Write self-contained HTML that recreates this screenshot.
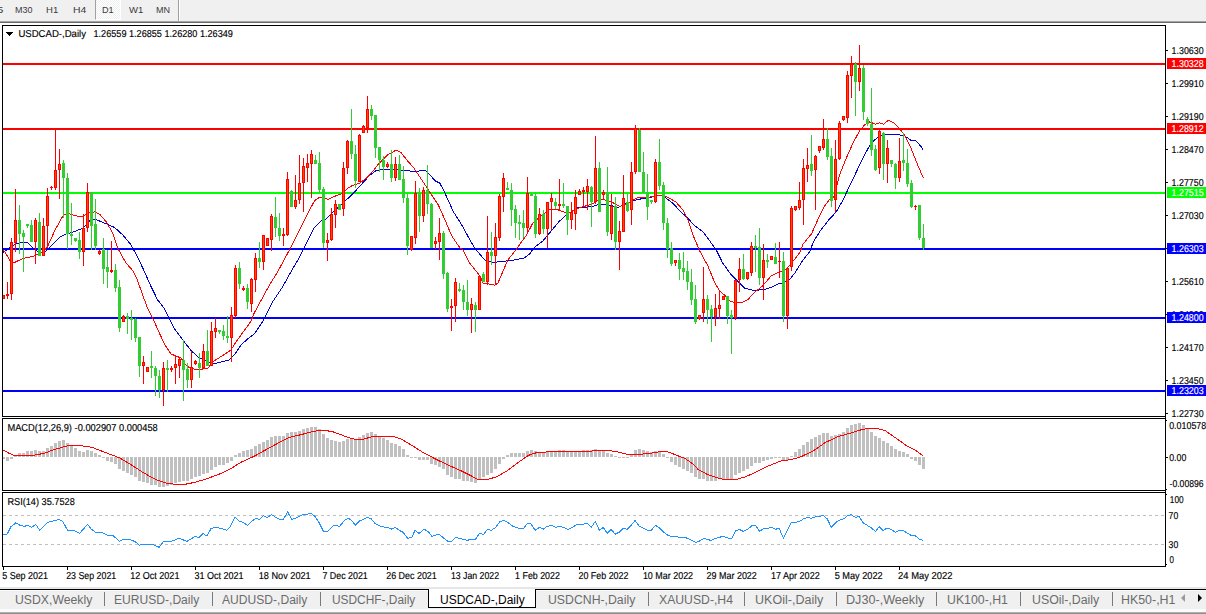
<!DOCTYPE html>
<html><head><meta charset="utf-8"><title>USDCAD-,Daily</title>
<style>
html,body{margin:0;padding:0;background:#fff;}
body{width:1206px;height:614px;position:relative;overflow:hidden;font-family:"Liberation Sans", sans-serif;}
#toolbar{position:absolute;left:0;top:0;width:1206px;height:21px;background:#f0f0f0;}
#toolbar .edge1{position:absolute;left:0;top:21px;width:1206px;height:1px;background:#a3a3a3;}
#toolbar .edge2{position:absolute;left:0;top:22px;width:1206px;height:1px;background:#6a6a6a;}
.tbt{position:absolute;transform-origin:0 0;font-size:9.5px;line-height:1.2;white-space:nowrap;}
#d1btn{position:absolute;left:95px;top:0;width:24px;height:19px;border-left:1px solid #a0a0a0;border-right:1px solid #fff;border-bottom:1px solid #fff;background:repeating-conic-gradient(#fff 0% 25%,#f0f0f0 0% 50%) 0 0/2px 2px;}
#tbsep{position:absolute;left:178px;top:0;width:1px;height:21px;background:#a0a0a0;border-right:1px solid #fff;}
#chart{position:absolute;left:0;top:0;}
#chart text{font-family:"Liberation Sans", sans-serif;white-space:pre;stroke-width:0.15px;paint-order:stroke;}
#tabs{position:absolute;left:0;top:587px;width:1206px;height:27px;background:#f0f0f0;}
#tabs .l0{position:absolute;left:0;top:0;width:1206px;height:2px;background:#e6e6e6;}
#tabs .l1{position:absolute;left:0;top:2px;width:1206px;height:1px;background:#000;}
#tabs .l2{position:absolute;left:0;top:3px;width:1206px;height:1px;background:#fafafa;}
#tabs .b0{position:absolute;left:0;top:22px;width:1206px;height:3px;background:#fbfbfb;}
#tabs .b1{position:absolute;left:0;top:25px;width:1206px;height:1px;background:#b0b0b0;}
#tabs .b2{position:absolute;left:0;top:26px;width:1206px;height:1px;background:#8e8e8e;}
#active{position:absolute;left:428px;top:2px;width:106px;height:18px;background:#fff;border:1px solid #000;border-top:none;}
.tabt{position:absolute;transform-origin:0 0;font-size:12.5px;line-height:1.2;white-space:nowrap;margin-top:-587px;}
.sep{position:absolute;top:5px;width:1px;height:14px;background:#7a7a7a;}
.arr{position:absolute;top:7px;width:0;height:0;border-top:4px solid transparent;border-bottom:4px solid transparent;}
</style></head><body>
<div id="toolbar"><div id="d1btn"></div><div id="tbsep"></div>
<span class="tbt" style="left:-2.6px;top:4.01px;transform:scaleX(1.2);color:#3a3a3a">5</span><span class="tbt" style="left:14.6px;top:4.01px;transform:scaleX(0.9452);color:#3a3a3a">M30</span><span class="tbt" style="left:45.8px;top:4.01px;transform:scaleX(1.0033);color:#3a3a3a">H1</span><span class="tbt" style="left:72.6px;top:4.01px;transform:scaleX(1.0961);color:#3a3a3a">H4</span><span class="tbt" style="left:102.0px;top:4.01px;transform:scaleX(0.9612);color:#3a3a3a">D1</span><span class="tbt" style="left:129.0px;top:4.01px;transform:scaleX(1.0024);color:#3a3a3a">W1</span><span class="tbt" style="left:155.8px;top:4.01px;transform:scaleX(0.9522);color:#3a3a3a">MN</span>
<div class="edge1"></div><div class="edge2"></div></div>
<svg id="chart" width="1206" height="614" viewBox="0 0 1206 614" shape-rendering="crispEdges">
<rect x="3" y="63" width="1162" height="2" fill="#ff0000"/>
<rect x="3" y="128" width="1162" height="2" fill="#ff0000"/>
<rect x="3" y="192" width="1162" height="2" fill="#00ff00"/>
<rect x="3" y="248" width="1162" height="2" fill="#0000ff"/>
<rect x="3" y="317" width="1162" height="2" fill="#0000ff"/>
<rect x="3" y="390" width="1162" height="2" fill="#0000ff"/>
<polyline points="3.3,252.2 8.3,248.9 14.9,244.4 21.6,242.3 27.4,242.3 33.2,248.1 39.8,253.1 45.6,251.4 51.4,245.6 59.7,237.3 66.3,234.0 74.6,231.5 82.9,228.2 89.6,220.7 94.5,219.1 101.2,221.6 114.4,227.4 122.7,234.8 131.0,244.8 137.6,257.2 144.3,271.3 150.9,286.2 157.5,299.7 164.2,308.2 169.2,318.1 174.1,328.1 182.4,339.5 191.2,350.7 199.5,358.2 206.1,360.7 212.8,364.0 219.4,362.3 229.4,359.9 234.3,354.9 241.0,345.0 249.3,337.5 254.6,333.7 262.9,321.3 272.9,301.4 282.8,286.5 291.1,271.6 298.5,259.0 306.3,243.7 314.6,227.2 320.4,221.4 326.2,218.9 332.8,212.2 342.8,203.1 352.7,194.0 361.0,184.9 369.3,175.8 375.9,170.8 382.6,169.3 395.8,169.5 412.4,171.3 425.8,170.7 430.0,174.9 434.9,180.7 439.9,183.2 444.9,193.1 453.2,211.4 461.5,224.6 469.8,239.6 474.7,248.0 484.7,259.9 493.0,262.4 502.9,261.5 514.5,259.9 524.5,257.9 529.5,254.1 534.4,247.4 542.7,241.2 551.0,231.3 559.3,221.3 567.6,213.8 577.5,208.0 585.8,207.2 592.5,206.4 599.1,204.4 605.7,204.4 612.4,206.0 618.2,207.4 624.9,204.1 633.2,200.8 639.8,199.1 649.8,197.8 656.4,195.0 661.4,195.0 666.3,198.3 673.0,203.3 679.6,210.7 687.9,218.2 694.5,225.7 702.8,231.5 709.5,240.6 716.1,249.7 722.7,263.0 731.0,274.6 737.6,281.0 744.3,288.0 752.8,290.2 762.7,289.9 771.0,287.4 777.6,284.1 784.3,282.4 789.3,279.9 794.9,272.9 803.2,259.7 809.9,251.4 813.2,242.2 819.8,231.5 828.1,220.7 836.4,211.6 843.0,200.0 846.3,192.9 854.6,175.5 862.9,158.1 869.6,145.7 874.5,139.9 879.5,136.5 884.5,134.4 896.1,134.5 904.4,135.7 911.0,140.3 916.0,140.7 921.0,146.5 923.0,149.5" fill="none" stroke="#0000cd" stroke-width="1" />
<polyline points="3.3,249.8 6.6,254.7 11.6,263.8 23.2,258.4 33.2,256.4 43.4,251.4 48.0,245.6 54.7,230.7 63.0,215.8 67.2,213.3 73.0,214.9 79.6,216.6 83.7,215.8 89.6,212.9 94.5,211.9 99.5,214.1 106.1,221.6 112.8,233.2 117.7,248.1 126.0,263.0 132.7,270.5 137.6,280.5 142.6,294.9 147.6,308.2 154.2,321.5 160.9,336.4 165.8,346.3 170.8,353.8 175.8,356.0 180.8,357.9 185.7,364.6 190.7,368.7 199.0,369.6 207.8,368.1 214.4,360.7 221.1,356.5 231.0,350.0 236.4,341.2 246.3,327.9 251.3,320.5 253.8,313.8 259.6,303.1 269.6,284.8 277.8,271.6 284.5,259.1 291.4,246.2 299.7,229.7 307.9,213.1 314.6,200.6 319.6,197.3 323.7,197.3 327.8,199.5 336.1,195.7 342.8,193.2 347.7,188.2 352.7,185.4 359.4,183.2 366.0,178.5 372.6,171.6 379.3,163.0 387.8,154.7 396.1,150.2 401.1,152.7 407.7,161.0 414.1,168.3 420.7,178.2 428.3,189.8 438.2,204.7 444.9,219.7 451.5,235.5 459.8,247.8 463.1,249.9 469.8,263.2 479.7,275.6 483.0,283.1 488.0,283.9 494.6,285.2 497.9,283.1 502.9,271.5 507.9,259.9 516.2,249.5 522.8,240.0 526.1,236.0 532.8,223.0 539.4,217.2 546.0,212.2 551.0,208.9 557.6,209.7 564.3,212.2 569.3,213.0 575.9,208.9 584.2,206.4 592.5,203.9 599.1,199.8 604.1,199.8 610.7,201.5 619.9,206.5 628.2,203.3 633.2,200.0 638.1,197.5 649.8,197.1 656.4,195.8 663.0,195.0 669.7,198.3 676.3,202.4 682.9,209.9 687.9,219.9 692.9,234.8 699.5,250.5 707.8,265.8 714.5,282.0 719.6,291.0 726.2,296.5 730.4,301.5 736.2,302.8 742.8,302.3 747.8,299.8 754.4,292.4 762.6,286.0 771.0,276.0 777.6,272.5 784.3,270.5 789.2,266.0 794.0,260.0 800.0,252.2 803.2,243.9 811.5,233.9 818.1,219.0 824.0,207.0 829.0,200.0 834.7,196.2 837.2,183.8 839.7,174.7 846.3,158.1 853.0,143.2 859.6,130.7 864.6,124.9 869.6,121.9 875.4,124.1 879.5,122.9 883.6,124.1 888.6,120.3 894.4,123.3 899.4,128.2 904.4,134.9 911.0,148.1 917.6,164.7 923.4,178.3" fill="none" stroke="#ff0000" stroke-width="1" />
<rect x="3" y="295" width="1" height="4" fill="#ff0000"/>
<rect x="2" y="295" width="3" height="4" fill="#ff0000"/>
<rect x="3" y="296" width="1" height="2" fill="#ff4500"/>
<rect x="7" y="282" width="1" height="17" fill="#ff0000"/>
<rect x="6" y="294" width="3" height="2" fill="#ff0000"/>
<rect x="11" y="238" width="1" height="62" fill="#ff0000"/>
<rect x="10" y="242" width="3" height="52" fill="#ff0000"/>
<rect x="11" y="243" width="1" height="50" fill="#ff4500"/>
<rect x="15" y="189" width="1" height="63" fill="#ff0000"/>
<rect x="14" y="220" width="3" height="23" fill="#ff0000"/>
<rect x="15" y="221" width="1" height="21" fill="#ff4500"/>
<rect x="19" y="205" width="1" height="49" fill="#32cd32"/>
<rect x="18" y="220" width="3" height="14" fill="#32cd32"/>
<rect x="23" y="230" width="1" height="42" fill="#32cd32"/>
<rect x="22" y="233" width="3" height="4" fill="#32cd32"/>
<rect x="27" y="224" width="1" height="4" fill="#32cd32"/>
<rect x="26" y="224" width="3" height="2" fill="#32cd32"/>
<rect x="31" y="220" width="1" height="22" fill="#32cd32"/>
<rect x="30" y="225" width="3" height="17" fill="#32cd32"/>
<rect x="35" y="218" width="1" height="46" fill="#ff0000"/>
<rect x="34" y="220" width="3" height="22" fill="#ff0000"/>
<rect x="35" y="221" width="1" height="20" fill="#ff4500"/>
<rect x="39" y="213" width="1" height="43" fill="#32cd32"/>
<rect x="38" y="222" width="3" height="34" fill="#32cd32"/>
<rect x="43" y="218" width="1" height="38" fill="#ff0000"/>
<rect x="42" y="226" width="3" height="30" fill="#ff0000"/>
<rect x="43" y="227" width="1" height="28" fill="#ff4500"/>
<rect x="47" y="188" width="1" height="60" fill="#ff0000"/>
<rect x="46" y="196" width="3" height="30" fill="#ff0000"/>
<rect x="47" y="197" width="1" height="28" fill="#ff4500"/>
<rect x="51" y="186" width="1" height="4" fill="#ff0000"/>
<rect x="50" y="187" width="3" height="1" fill="#ff0000"/>
<rect x="55" y="130" width="1" height="60" fill="#ff0000"/>
<rect x="54" y="170" width="3" height="18" fill="#ff0000"/>
<rect x="55" y="171" width="1" height="16" fill="#ff4500"/>
<rect x="59" y="149" width="1" height="50" fill="#ff0000"/>
<rect x="58" y="164" width="3" height="6" fill="#ff0000"/>
<rect x="59" y="165" width="1" height="4" fill="#ff4500"/>
<rect x="63" y="160" width="1" height="58" fill="#32cd32"/>
<rect x="62" y="163" width="3" height="15" fill="#32cd32"/>
<rect x="67" y="173" width="1" height="76" fill="#32cd32"/>
<rect x="66" y="178" width="3" height="56" fill="#32cd32"/>
<rect x="71" y="203" width="1" height="42" fill="#32cd32"/>
<rect x="70" y="234" width="3" height="2" fill="#32cd32"/>
<rect x="75" y="238" width="1" height="4" fill="#32cd32"/>
<rect x="74" y="238" width="3" height="3" fill="#32cd32"/>
<rect x="79" y="232" width="1" height="27" fill="#32cd32"/>
<rect x="78" y="240" width="3" height="12" fill="#32cd32"/>
<rect x="83" y="214" width="1" height="52" fill="#ff0000"/>
<rect x="82" y="228" width="3" height="24" fill="#ff0000"/>
<rect x="83" y="229" width="1" height="22" fill="#ff4500"/>
<rect x="87" y="183" width="1" height="49" fill="#ff0000"/>
<rect x="86" y="192" width="3" height="36" fill="#ff0000"/>
<rect x="87" y="193" width="1" height="34" fill="#ff4500"/>
<rect x="91" y="192" width="1" height="58" fill="#32cd32"/>
<rect x="90" y="192" width="3" height="34" fill="#32cd32"/>
<rect x="95" y="199" width="1" height="51" fill="#32cd32"/>
<rect x="94" y="224" width="3" height="22" fill="#32cd32"/>
<rect x="99" y="250" width="1" height="5" fill="#ff0000"/>
<rect x="98" y="251" width="3" height="3" fill="#ff0000"/>
<rect x="99" y="252" width="1" height="1" fill="#ff4500"/>
<rect x="103" y="238" width="1" height="46" fill="#32cd32"/>
<rect x="102" y="249" width="3" height="20" fill="#32cd32"/>
<rect x="107" y="250" width="1" height="38" fill="#32cd32"/>
<rect x="106" y="267" width="3" height="5" fill="#32cd32"/>
<rect x="111" y="241" width="1" height="32" fill="#ff0000"/>
<rect x="110" y="270" width="3" height="2" fill="#ff0000"/>
<rect x="115" y="264" width="1" height="28" fill="#32cd32"/>
<rect x="114" y="270" width="3" height="18" fill="#32cd32"/>
<rect x="119" y="280" width="1" height="52" fill="#32cd32"/>
<rect x="118" y="287" width="3" height="41" fill="#32cd32"/>
<rect x="123" y="315" width="1" height="7" fill="#ff0000"/>
<rect x="122" y="316" width="3" height="6" fill="#ff0000"/>
<rect x="123" y="317" width="1" height="4" fill="#ff4500"/>
<rect x="127" y="313" width="1" height="21" fill="#32cd32"/>
<rect x="126" y="316" width="3" height="3" fill="#32cd32"/>
<rect x="131" y="310" width="1" height="30" fill="#32cd32"/>
<rect x="130" y="318" width="3" height="2" fill="#32cd32"/>
<rect x="135" y="318" width="1" height="24" fill="#32cd32"/>
<rect x="134" y="319" width="3" height="19" fill="#32cd32"/>
<rect x="139" y="337" width="1" height="40" fill="#32cd32"/>
<rect x="138" y="337" width="3" height="29" fill="#32cd32"/>
<rect x="143" y="356" width="1" height="28" fill="#ff0000"/>
<rect x="142" y="362" width="3" height="4" fill="#ff0000"/>
<rect x="143" y="363" width="1" height="2" fill="#ff4500"/>
<rect x="147" y="367" width="1" height="5" fill="#ff0000"/>
<rect x="146" y="367" width="3" height="5" fill="#ff0000"/>
<rect x="147" y="368" width="1" height="3" fill="#ff4500"/>
<rect x="151" y="351" width="1" height="27" fill="#32cd32"/>
<rect x="150" y="366" width="3" height="2" fill="#32cd32"/>
<rect x="155" y="366" width="1" height="30" fill="#32cd32"/>
<rect x="154" y="368" width="3" height="8" fill="#32cd32"/>
<rect x="159" y="370" width="1" height="28" fill="#32cd32"/>
<rect x="158" y="376" width="3" height="14" fill="#32cd32"/>
<rect x="163" y="362" width="1" height="44" fill="#ff0000"/>
<rect x="162" y="368" width="3" height="22" fill="#ff0000"/>
<rect x="163" y="369" width="1" height="20" fill="#ff4500"/>
<rect x="167" y="360" width="1" height="32" fill="#32cd32"/>
<rect x="166" y="368" width="3" height="2" fill="#32cd32"/>
<rect x="171" y="366" width="1" height="6" fill="#ff0000"/>
<rect x="170" y="368" width="3" height="2" fill="#ff0000"/>
<rect x="175" y="356" width="1" height="28" fill="#ff0000"/>
<rect x="174" y="364" width="3" height="4" fill="#ff0000"/>
<rect x="175" y="365" width="1" height="2" fill="#ff4500"/>
<rect x="179" y="357" width="1" height="21" fill="#ff0000"/>
<rect x="178" y="359" width="3" height="7" fill="#ff0000"/>
<rect x="179" y="360" width="1" height="5" fill="#ff4500"/>
<rect x="183" y="340" width="1" height="61" fill="#32cd32"/>
<rect x="182" y="360" width="3" height="10" fill="#32cd32"/>
<rect x="187" y="363" width="1" height="25" fill="#32cd32"/>
<rect x="186" y="369" width="3" height="11" fill="#32cd32"/>
<rect x="191" y="351" width="1" height="37" fill="#ff0000"/>
<rect x="190" y="367" width="3" height="13" fill="#ff0000"/>
<rect x="191" y="368" width="1" height="11" fill="#ff4500"/>
<rect x="195" y="360" width="1" height="5" fill="#ff0000"/>
<rect x="194" y="361" width="3" height="3" fill="#ff0000"/>
<rect x="195" y="362" width="1" height="1" fill="#ff4500"/>
<rect x="199" y="353" width="1" height="25" fill="#32cd32"/>
<rect x="198" y="363" width="3" height="5" fill="#32cd32"/>
<rect x="203" y="344" width="1" height="24" fill="#ff0000"/>
<rect x="202" y="351" width="3" height="17" fill="#ff0000"/>
<rect x="203" y="352" width="1" height="15" fill="#ff4500"/>
<rect x="207" y="330" width="1" height="36" fill="#32cd32"/>
<rect x="206" y="351" width="3" height="15" fill="#32cd32"/>
<rect x="211" y="322" width="1" height="44" fill="#ff0000"/>
<rect x="210" y="331" width="3" height="35" fill="#ff0000"/>
<rect x="211" y="332" width="1" height="33" fill="#ff4500"/>
<rect x="215" y="318" width="1" height="20" fill="#ff0000"/>
<rect x="214" y="328" width="3" height="4" fill="#ff0000"/>
<rect x="215" y="329" width="1" height="2" fill="#ff4500"/>
<rect x="219" y="330" width="1" height="4" fill="#32cd32"/>
<rect x="218" y="330" width="3" height="2" fill="#32cd32"/>
<rect x="223" y="325" width="1" height="15" fill="#32cd32"/>
<rect x="222" y="331" width="3" height="5" fill="#32cd32"/>
<rect x="227" y="316" width="1" height="27" fill="#32cd32"/>
<rect x="226" y="336" width="3" height="2" fill="#32cd32"/>
<rect x="231" y="307" width="1" height="55" fill="#ff0000"/>
<rect x="230" y="315" width="3" height="23" fill="#ff0000"/>
<rect x="231" y="316" width="1" height="21" fill="#ff4500"/>
<rect x="235" y="265" width="1" height="53" fill="#ff0000"/>
<rect x="234" y="268" width="3" height="48" fill="#ff0000"/>
<rect x="235" y="269" width="1" height="46" fill="#ff4500"/>
<rect x="239" y="262" width="1" height="27" fill="#32cd32"/>
<rect x="238" y="268" width="3" height="16" fill="#32cd32"/>
<rect x="243" y="286" width="1" height="5" fill="#ff0000"/>
<rect x="242" y="288" width="3" height="2" fill="#ff0000"/>
<rect x="247" y="284" width="1" height="25" fill="#32cd32"/>
<rect x="246" y="288" width="3" height="14" fill="#32cd32"/>
<rect x="251" y="278" width="1" height="34" fill="#ff0000"/>
<rect x="250" y="279" width="3" height="25" fill="#ff0000"/>
<rect x="251" y="280" width="1" height="23" fill="#ff4500"/>
<rect x="255" y="253" width="1" height="39" fill="#ff0000"/>
<rect x="254" y="258" width="3" height="22" fill="#ff0000"/>
<rect x="255" y="259" width="1" height="20" fill="#ff4500"/>
<rect x="259" y="242" width="1" height="26" fill="#32cd32"/>
<rect x="258" y="258" width="3" height="4" fill="#32cd32"/>
<rect x="263" y="235" width="1" height="35" fill="#ff0000"/>
<rect x="262" y="235" width="3" height="27" fill="#ff0000"/>
<rect x="263" y="236" width="1" height="25" fill="#ff4500"/>
<rect x="267" y="238" width="1" height="8" fill="#ff0000"/>
<rect x="266" y="238" width="3" height="8" fill="#ff0000"/>
<rect x="267" y="239" width="1" height="6" fill="#ff4500"/>
<rect x="271" y="214" width="1" height="37" fill="#ff0000"/>
<rect x="270" y="216" width="3" height="24" fill="#ff0000"/>
<rect x="271" y="217" width="1" height="22" fill="#ff4500"/>
<rect x="275" y="197" width="1" height="40" fill="#32cd32"/>
<rect x="274" y="217" width="3" height="11" fill="#32cd32"/>
<rect x="279" y="213" width="1" height="28" fill="#32cd32"/>
<rect x="278" y="228" width="3" height="8" fill="#32cd32"/>
<rect x="283" y="228" width="1" height="18" fill="#ff0000"/>
<rect x="282" y="234" width="3" height="2" fill="#ff0000"/>
<rect x="287" y="172" width="1" height="64" fill="#ff0000"/>
<rect x="286" y="179" width="3" height="56" fill="#ff0000"/>
<rect x="287" y="180" width="1" height="54" fill="#ff4500"/>
<rect x="291" y="190" width="1" height="17" fill="#32cd32"/>
<rect x="290" y="191" width="3" height="16" fill="#32cd32"/>
<rect x="295" y="175" width="1" height="34" fill="#ff0000"/>
<rect x="294" y="200" width="3" height="7" fill="#ff0000"/>
<rect x="295" y="201" width="1" height="5" fill="#ff4500"/>
<rect x="299" y="155" width="1" height="49" fill="#ff0000"/>
<rect x="298" y="183" width="3" height="17" fill="#ff0000"/>
<rect x="299" y="184" width="1" height="15" fill="#ff4500"/>
<rect x="303" y="158" width="1" height="54" fill="#ff0000"/>
<rect x="302" y="166" width="3" height="17" fill="#ff0000"/>
<rect x="303" y="167" width="1" height="15" fill="#ff4500"/>
<rect x="307" y="154" width="1" height="28" fill="#ff0000"/>
<rect x="306" y="163" width="3" height="5" fill="#ff0000"/>
<rect x="307" y="164" width="1" height="3" fill="#ff4500"/>
<rect x="311" y="150" width="1" height="48" fill="#ff0000"/>
<rect x="310" y="154" width="3" height="10" fill="#ff0000"/>
<rect x="311" y="155" width="1" height="8" fill="#ff4500"/>
<rect x="315" y="155" width="1" height="9" fill="#32cd32"/>
<rect x="314" y="160" width="3" height="4" fill="#32cd32"/>
<rect x="319" y="152" width="1" height="41" fill="#32cd32"/>
<rect x="318" y="163" width="3" height="27" fill="#32cd32"/>
<rect x="323" y="187" width="1" height="61" fill="#32cd32"/>
<rect x="322" y="189" width="3" height="54" fill="#32cd32"/>
<rect x="327" y="233" width="1" height="28" fill="#ff0000"/>
<rect x="326" y="240" width="3" height="3" fill="#ff0000"/>
<rect x="327" y="241" width="1" height="1" fill="#ff4500"/>
<rect x="331" y="208" width="1" height="33" fill="#ff0000"/>
<rect x="330" y="214" width="3" height="26" fill="#ff0000"/>
<rect x="331" y="215" width="1" height="24" fill="#ff4500"/>
<rect x="335" y="200" width="1" height="28" fill="#ff0000"/>
<rect x="334" y="204" width="3" height="11" fill="#ff0000"/>
<rect x="335" y="205" width="1" height="9" fill="#ff4500"/>
<rect x="339" y="204" width="1" height="6" fill="#32cd32"/>
<rect x="338" y="204" width="3" height="6" fill="#32cd32"/>
<rect x="343" y="162" width="1" height="54" fill="#ff0000"/>
<rect x="342" y="168" width="3" height="41" fill="#ff0000"/>
<rect x="343" y="169" width="1" height="39" fill="#ff4500"/>
<rect x="347" y="140" width="1" height="34" fill="#ff0000"/>
<rect x="346" y="141" width="3" height="27" fill="#ff0000"/>
<rect x="347" y="142" width="1" height="25" fill="#ff4500"/>
<rect x="351" y="109" width="1" height="50" fill="#32cd32"/>
<rect x="350" y="141" width="3" height="13" fill="#32cd32"/>
<rect x="355" y="145" width="1" height="43" fill="#32cd32"/>
<rect x="354" y="154" width="3" height="27" fill="#32cd32"/>
<rect x="359" y="134" width="1" height="48" fill="#ff0000"/>
<rect x="358" y="135" width="3" height="47" fill="#ff0000"/>
<rect x="359" y="136" width="1" height="45" fill="#ff4500"/>
<rect x="363" y="125" width="1" height="8" fill="#ff0000"/>
<rect x="362" y="126" width="3" height="7" fill="#ff0000"/>
<rect x="363" y="127" width="1" height="5" fill="#ff4500"/>
<rect x="367" y="96" width="1" height="37" fill="#ff0000"/>
<rect x="366" y="109" width="3" height="19" fill="#ff0000"/>
<rect x="367" y="110" width="1" height="17" fill="#ff4500"/>
<rect x="371" y="105" width="1" height="15" fill="#32cd32"/>
<rect x="370" y="109" width="3" height="7" fill="#32cd32"/>
<rect x="375" y="115" width="1" height="43" fill="#32cd32"/>
<rect x="374" y="115" width="3" height="33" fill="#32cd32"/>
<rect x="379" y="147" width="1" height="25" fill="#32cd32"/>
<rect x="378" y="147" width="3" height="13" fill="#32cd32"/>
<rect x="383" y="156" width="1" height="24" fill="#32cd32"/>
<rect x="382" y="160" width="3" height="7" fill="#32cd32"/>
<rect x="387" y="162" width="1" height="6" fill="#ff0000"/>
<rect x="386" y="164" width="3" height="3" fill="#ff0000"/>
<rect x="387" y="165" width="1" height="1" fill="#ff4500"/>
<rect x="391" y="150" width="1" height="32" fill="#32cd32"/>
<rect x="390" y="164" width="3" height="14" fill="#32cd32"/>
<rect x="395" y="157" width="1" height="24" fill="#ff0000"/>
<rect x="394" y="164" width="3" height="14" fill="#ff0000"/>
<rect x="395" y="165" width="1" height="12" fill="#ff4500"/>
<rect x="399" y="155" width="1" height="25" fill="#32cd32"/>
<rect x="398" y="164" width="3" height="16" fill="#32cd32"/>
<rect x="403" y="166" width="1" height="37" fill="#32cd32"/>
<rect x="402" y="179" width="3" height="19" fill="#32cd32"/>
<rect x="407" y="194" width="1" height="61" fill="#32cd32"/>
<rect x="406" y="198" width="3" height="48" fill="#32cd32"/>
<rect x="411" y="236" width="1" height="15" fill="#ff0000"/>
<rect x="410" y="236" width="3" height="14" fill="#ff0000"/>
<rect x="411" y="237" width="1" height="12" fill="#ff4500"/>
<rect x="415" y="181" width="1" height="63" fill="#ff0000"/>
<rect x="414" y="193" width="3" height="45" fill="#ff0000"/>
<rect x="415" y="194" width="1" height="43" fill="#ff4500"/>
<rect x="419" y="188" width="1" height="44" fill="#32cd32"/>
<rect x="418" y="193" width="3" height="23" fill="#32cd32"/>
<rect x="423" y="187" width="1" height="35" fill="#ff0000"/>
<rect x="422" y="190" width="3" height="26" fill="#ff0000"/>
<rect x="423" y="191" width="1" height="24" fill="#ff4500"/>
<rect x="427" y="165" width="1" height="49" fill="#32cd32"/>
<rect x="426" y="190" width="3" height="14" fill="#32cd32"/>
<rect x="431" y="203" width="1" height="45" fill="#32cd32"/>
<rect x="430" y="204" width="3" height="44" fill="#32cd32"/>
<rect x="435" y="237" width="1" height="12" fill="#ff0000"/>
<rect x="434" y="241" width="3" height="3" fill="#ff0000"/>
<rect x="435" y="242" width="1" height="1" fill="#ff4500"/>
<rect x="439" y="218" width="1" height="42" fill="#ff0000"/>
<rect x="438" y="233" width="3" height="9" fill="#ff0000"/>
<rect x="439" y="234" width="1" height="7" fill="#ff4500"/>
<rect x="443" y="231" width="1" height="48" fill="#32cd32"/>
<rect x="442" y="233" width="3" height="41" fill="#32cd32"/>
<rect x="447" y="272" width="1" height="40" fill="#32cd32"/>
<rect x="446" y="273" width="3" height="36" fill="#32cd32"/>
<rect x="451" y="299" width="1" height="32" fill="#ff0000"/>
<rect x="450" y="306" width="3" height="2" fill="#ff0000"/>
<rect x="455" y="278" width="1" height="44" fill="#ff0000"/>
<rect x="454" y="282" width="3" height="24" fill="#ff0000"/>
<rect x="455" y="283" width="1" height="22" fill="#ff4500"/>
<rect x="459" y="283" width="1" height="9" fill="#32cd32"/>
<rect x="458" y="289" width="3" height="2" fill="#32cd32"/>
<rect x="463" y="285" width="1" height="25" fill="#32cd32"/>
<rect x="462" y="290" width="3" height="12" fill="#32cd32"/>
<rect x="467" y="280" width="1" height="36" fill="#32cd32"/>
<rect x="466" y="302" width="3" height="8" fill="#32cd32"/>
<rect x="471" y="298" width="1" height="35" fill="#ff0000"/>
<rect x="470" y="304" width="3" height="6" fill="#ff0000"/>
<rect x="471" y="305" width="1" height="4" fill="#ff4500"/>
<rect x="475" y="302" width="1" height="30" fill="#32cd32"/>
<rect x="474" y="305" width="3" height="5" fill="#32cd32"/>
<rect x="479" y="275" width="1" height="35" fill="#ff0000"/>
<rect x="478" y="276" width="3" height="34" fill="#ff0000"/>
<rect x="479" y="277" width="1" height="32" fill="#ff4500"/>
<rect x="483" y="272" width="1" height="10" fill="#32cd32"/>
<rect x="482" y="274" width="3" height="8" fill="#32cd32"/>
<rect x="487" y="216" width="1" height="69" fill="#ff0000"/>
<rect x="486" y="252" width="3" height="30" fill="#ff0000"/>
<rect x="487" y="253" width="1" height="28" fill="#ff4500"/>
<rect x="491" y="232" width="1" height="33" fill="#32cd32"/>
<rect x="490" y="252" width="3" height="4" fill="#32cd32"/>
<rect x="495" y="223" width="1" height="62" fill="#ff0000"/>
<rect x="494" y="237" width="3" height="19" fill="#ff0000"/>
<rect x="495" y="238" width="1" height="17" fill="#ff4500"/>
<rect x="499" y="194" width="1" height="47" fill="#ff0000"/>
<rect x="498" y="196" width="3" height="42" fill="#ff0000"/>
<rect x="499" y="197" width="1" height="40" fill="#ff4500"/>
<rect x="503" y="173" width="1" height="39" fill="#ff0000"/>
<rect x="502" y="178" width="3" height="19" fill="#ff0000"/>
<rect x="503" y="179" width="1" height="17" fill="#ff4500"/>
<rect x="507" y="182" width="1" height="8" fill="#32cd32"/>
<rect x="506" y="188" width="3" height="2" fill="#32cd32"/>
<rect x="511" y="183" width="1" height="43" fill="#32cd32"/>
<rect x="510" y="190" width="3" height="20" fill="#32cd32"/>
<rect x="515" y="205" width="1" height="33" fill="#32cd32"/>
<rect x="514" y="209" width="3" height="14" fill="#32cd32"/>
<rect x="519" y="215" width="1" height="25" fill="#32cd32"/>
<rect x="518" y="222" width="3" height="2" fill="#32cd32"/>
<rect x="523" y="210" width="1" height="28" fill="#32cd32"/>
<rect x="522" y="223" width="3" height="5" fill="#32cd32"/>
<rect x="527" y="177" width="1" height="57" fill="#ff0000"/>
<rect x="526" y="193" width="3" height="35" fill="#ff0000"/>
<rect x="527" y="194" width="1" height="33" fill="#ff4500"/>
<rect x="531" y="193" width="1" height="3" fill="#32cd32"/>
<rect x="530" y="194" width="3" height="2" fill="#32cd32"/>
<rect x="535" y="192" width="1" height="46" fill="#32cd32"/>
<rect x="534" y="196" width="3" height="38" fill="#32cd32"/>
<rect x="539" y="208" width="1" height="27" fill="#ff0000"/>
<rect x="538" y="214" width="3" height="20" fill="#ff0000"/>
<rect x="539" y="215" width="1" height="18" fill="#ff4500"/>
<rect x="543" y="210" width="1" height="24" fill="#32cd32"/>
<rect x="542" y="214" width="3" height="15" fill="#32cd32"/>
<rect x="547" y="202" width="1" height="46" fill="#ff0000"/>
<rect x="546" y="202" width="3" height="27" fill="#ff0000"/>
<rect x="547" y="203" width="1" height="25" fill="#ff4500"/>
<rect x="551" y="193" width="1" height="37" fill="#ff0000"/>
<rect x="550" y="198" width="3" height="4" fill="#ff0000"/>
<rect x="551" y="199" width="1" height="2" fill="#ff4500"/>
<rect x="555" y="198" width="1" height="11" fill="#32cd32"/>
<rect x="554" y="202" width="3" height="4" fill="#32cd32"/>
<rect x="559" y="179" width="1" height="31" fill="#ff0000"/>
<rect x="558" y="204" width="3" height="2" fill="#ff0000"/>
<rect x="563" y="183" width="1" height="25" fill="#32cd32"/>
<rect x="562" y="204" width="3" height="2" fill="#32cd32"/>
<rect x="567" y="206" width="1" height="29" fill="#32cd32"/>
<rect x="566" y="206" width="3" height="14" fill="#32cd32"/>
<rect x="571" y="202" width="1" height="27" fill="#ff0000"/>
<rect x="570" y="212" width="3" height="8" fill="#ff0000"/>
<rect x="571" y="213" width="1" height="6" fill="#ff4500"/>
<rect x="575" y="190" width="1" height="40" fill="#ff0000"/>
<rect x="574" y="197" width="3" height="17" fill="#ff0000"/>
<rect x="575" y="198" width="1" height="15" fill="#ff4500"/>
<rect x="579" y="189" width="1" height="6" fill="#ff0000"/>
<rect x="578" y="191" width="3" height="4" fill="#ff0000"/>
<rect x="579" y="192" width="1" height="2" fill="#ff4500"/>
<rect x="583" y="187" width="1" height="20" fill="#ff0000"/>
<rect x="582" y="190" width="3" height="2" fill="#ff0000"/>
<rect x="587" y="179" width="1" height="31" fill="#ff0000"/>
<rect x="586" y="186" width="3" height="6" fill="#ff0000"/>
<rect x="587" y="187" width="1" height="4" fill="#ff4500"/>
<rect x="591" y="186" width="1" height="41" fill="#32cd32"/>
<rect x="590" y="187" width="3" height="15" fill="#32cd32"/>
<rect x="595" y="136" width="1" height="68" fill="#ff0000"/>
<rect x="594" y="168" width="3" height="34" fill="#ff0000"/>
<rect x="595" y="169" width="1" height="32" fill="#ff4500"/>
<rect x="599" y="162" width="1" height="50" fill="#32cd32"/>
<rect x="598" y="168" width="3" height="44" fill="#32cd32"/>
<rect x="603" y="190" width="1" height="10" fill="#ff0000"/>
<rect x="602" y="192" width="3" height="3" fill="#ff0000"/>
<rect x="603" y="193" width="1" height="1" fill="#ff4500"/>
<rect x="607" y="167" width="1" height="69" fill="#32cd32"/>
<rect x="606" y="192" width="3" height="40" fill="#32cd32"/>
<rect x="611" y="194" width="1" height="46" fill="#ff0000"/>
<rect x="610" y="206" width="3" height="28" fill="#ff0000"/>
<rect x="611" y="207" width="1" height="26" fill="#ff4500"/>
<rect x="615" y="197" width="1" height="53" fill="#32cd32"/>
<rect x="614" y="206" width="3" height="36" fill="#32cd32"/>
<rect x="619" y="221" width="1" height="49" fill="#ff0000"/>
<rect x="618" y="231" width="3" height="11" fill="#ff0000"/>
<rect x="619" y="232" width="1" height="9" fill="#ff4500"/>
<rect x="623" y="175" width="1" height="57" fill="#ff0000"/>
<rect x="622" y="198" width="3" height="34" fill="#ff0000"/>
<rect x="623" y="199" width="1" height="32" fill="#ff4500"/>
<rect x="627" y="193" width="1" height="19" fill="#32cd32"/>
<rect x="626" y="202" width="3" height="9" fill="#32cd32"/>
<rect x="631" y="162" width="1" height="63" fill="#ff0000"/>
<rect x="630" y="172" width="3" height="38" fill="#ff0000"/>
<rect x="631" y="173" width="1" height="36" fill="#ff4500"/>
<rect x="635" y="125" width="1" height="49" fill="#ff0000"/>
<rect x="634" y="128" width="3" height="44" fill="#ff0000"/>
<rect x="635" y="129" width="1" height="42" fill="#ff4500"/>
<rect x="639" y="128" width="1" height="44" fill="#32cd32"/>
<rect x="638" y="130" width="3" height="42" fill="#32cd32"/>
<rect x="643" y="152" width="1" height="42" fill="#32cd32"/>
<rect x="642" y="172" width="3" height="21" fill="#32cd32"/>
<rect x="647" y="174" width="1" height="46" fill="#32cd32"/>
<rect x="646" y="192" width="3" height="15" fill="#32cd32"/>
<rect x="651" y="200" width="1" height="4" fill="#32cd32"/>
<rect x="650" y="200" width="3" height="2" fill="#32cd32"/>
<rect x="655" y="159" width="1" height="44" fill="#ff0000"/>
<rect x="654" y="162" width="3" height="40" fill="#ff0000"/>
<rect x="655" y="163" width="1" height="38" fill="#ff4500"/>
<rect x="659" y="139" width="1" height="51" fill="#32cd32"/>
<rect x="658" y="162" width="3" height="24" fill="#32cd32"/>
<rect x="663" y="182" width="1" height="48" fill="#32cd32"/>
<rect x="662" y="185" width="3" height="38" fill="#32cd32"/>
<rect x="667" y="218" width="1" height="40" fill="#32cd32"/>
<rect x="666" y="223" width="3" height="26" fill="#32cd32"/>
<rect x="671" y="242" width="1" height="24" fill="#32cd32"/>
<rect x="670" y="248" width="3" height="16" fill="#32cd32"/>
<rect x="675" y="260" width="1" height="6" fill="#ff0000"/>
<rect x="674" y="260" width="3" height="3" fill="#ff0000"/>
<rect x="675" y="261" width="1" height="1" fill="#ff4500"/>
<rect x="679" y="253" width="1" height="27" fill="#32cd32"/>
<rect x="678" y="260" width="3" height="9" fill="#32cd32"/>
<rect x="683" y="252" width="1" height="28" fill="#32cd32"/>
<rect x="682" y="268" width="3" height="4" fill="#32cd32"/>
<rect x="687" y="261" width="1" height="29" fill="#32cd32"/>
<rect x="686" y="271" width="3" height="11" fill="#32cd32"/>
<rect x="691" y="269" width="1" height="36" fill="#32cd32"/>
<rect x="690" y="282" width="3" height="18" fill="#32cd32"/>
<rect x="695" y="285" width="1" height="39" fill="#32cd32"/>
<rect x="694" y="299" width="3" height="23" fill="#32cd32"/>
<rect x="699" y="315" width="1" height="5" fill="#ff0000"/>
<rect x="698" y="315" width="3" height="4" fill="#ff0000"/>
<rect x="699" y="316" width="1" height="2" fill="#ff4500"/>
<rect x="703" y="267" width="1" height="55" fill="#ff0000"/>
<rect x="702" y="299" width="3" height="14" fill="#ff0000"/>
<rect x="703" y="300" width="1" height="12" fill="#ff4500"/>
<rect x="707" y="295" width="1" height="29" fill="#32cd32"/>
<rect x="706" y="299" width="3" height="11" fill="#32cd32"/>
<rect x="711" y="305" width="1" height="37" fill="#32cd32"/>
<rect x="710" y="309" width="3" height="8" fill="#32cd32"/>
<rect x="715" y="294" width="1" height="32" fill="#ff0000"/>
<rect x="714" y="308" width="3" height="9" fill="#ff0000"/>
<rect x="715" y="309" width="1" height="7" fill="#ff4500"/>
<rect x="719" y="292" width="1" height="27" fill="#ff0000"/>
<rect x="718" y="305" width="3" height="4" fill="#ff0000"/>
<rect x="719" y="306" width="1" height="2" fill="#ff4500"/>
<rect x="723" y="296" width="1" height="4" fill="#ff0000"/>
<rect x="722" y="296" width="3" height="4" fill="#ff0000"/>
<rect x="723" y="297" width="1" height="2" fill="#ff4500"/>
<rect x="727" y="296" width="1" height="28" fill="#32cd32"/>
<rect x="726" y="296" width="3" height="20" fill="#32cd32"/>
<rect x="731" y="310" width="1" height="44" fill="#32cd32"/>
<rect x="730" y="315" width="3" height="3" fill="#32cd32"/>
<rect x="735" y="280" width="1" height="40" fill="#ff0000"/>
<rect x="734" y="280" width="3" height="38" fill="#ff0000"/>
<rect x="735" y="281" width="1" height="36" fill="#ff4500"/>
<rect x="739" y="258" width="1" height="34" fill="#ff0000"/>
<rect x="738" y="269" width="3" height="11" fill="#ff0000"/>
<rect x="739" y="270" width="1" height="9" fill="#ff4500"/>
<rect x="743" y="254" width="1" height="26" fill="#32cd32"/>
<rect x="742" y="269" width="3" height="10" fill="#32cd32"/>
<rect x="747" y="272" width="1" height="8" fill="#ff0000"/>
<rect x="746" y="272" width="3" height="7" fill="#ff0000"/>
<rect x="747" y="273" width="1" height="5" fill="#ff4500"/>
<rect x="751" y="242" width="1" height="34" fill="#ff0000"/>
<rect x="750" y="246" width="3" height="27" fill="#ff0000"/>
<rect x="751" y="247" width="1" height="25" fill="#ff4500"/>
<rect x="755" y="235" width="1" height="37" fill="#32cd32"/>
<rect x="754" y="246" width="3" height="2" fill="#32cd32"/>
<rect x="759" y="228" width="1" height="57" fill="#32cd32"/>
<rect x="758" y="247" width="3" height="31" fill="#32cd32"/>
<rect x="763" y="244" width="1" height="56" fill="#ff0000"/>
<rect x="762" y="260" width="3" height="18" fill="#ff0000"/>
<rect x="763" y="261" width="1" height="16" fill="#ff4500"/>
<rect x="767" y="254" width="1" height="14" fill="#32cd32"/>
<rect x="766" y="260" width="3" height="2" fill="#32cd32"/>
<rect x="771" y="256" width="1" height="4" fill="#ff0000"/>
<rect x="770" y="256" width="3" height="4" fill="#ff0000"/>
<rect x="771" y="257" width="1" height="2" fill="#ff4500"/>
<rect x="775" y="243" width="1" height="21" fill="#32cd32"/>
<rect x="774" y="257" width="3" height="7" fill="#32cd32"/>
<rect x="779" y="242" width="1" height="36" fill="#ff0000"/>
<rect x="778" y="261" width="3" height="1" fill="#ff0000"/>
<rect x="783" y="252" width="1" height="70" fill="#32cd32"/>
<rect x="782" y="261" width="3" height="55" fill="#32cd32"/>
<rect x="787" y="267" width="1" height="62" fill="#ff0000"/>
<rect x="786" y="268" width="3" height="48" fill="#ff0000"/>
<rect x="787" y="269" width="1" height="46" fill="#ff4500"/>
<rect x="791" y="206" width="1" height="65" fill="#ff0000"/>
<rect x="790" y="208" width="3" height="59" fill="#ff0000"/>
<rect x="791" y="209" width="1" height="57" fill="#ff4500"/>
<rect x="795" y="206" width="1" height="5" fill="#ff0000"/>
<rect x="794" y="206" width="3" height="4" fill="#ff0000"/>
<rect x="795" y="207" width="1" height="2" fill="#ff4500"/>
<rect x="799" y="182" width="1" height="28" fill="#ff0000"/>
<rect x="798" y="200" width="3" height="8" fill="#ff0000"/>
<rect x="799" y="201" width="1" height="6" fill="#ff4500"/>
<rect x="803" y="159" width="1" height="66" fill="#ff0000"/>
<rect x="802" y="168" width="3" height="32" fill="#ff0000"/>
<rect x="803" y="169" width="1" height="30" fill="#ff4500"/>
<rect x="807" y="148" width="1" height="34" fill="#ff0000"/>
<rect x="806" y="165" width="3" height="4" fill="#ff0000"/>
<rect x="807" y="166" width="1" height="2" fill="#ff4500"/>
<rect x="811" y="135" width="1" height="41" fill="#32cd32"/>
<rect x="810" y="164" width="3" height="7" fill="#32cd32"/>
<rect x="815" y="155" width="1" height="55" fill="#ff0000"/>
<rect x="814" y="156" width="3" height="14" fill="#ff0000"/>
<rect x="815" y="157" width="1" height="12" fill="#ff4500"/>
<rect x="819" y="146" width="1" height="7" fill="#ff0000"/>
<rect x="818" y="146" width="3" height="5" fill="#ff0000"/>
<rect x="819" y="147" width="1" height="3" fill="#ff4500"/>
<rect x="823" y="119" width="1" height="31" fill="#ff0000"/>
<rect x="822" y="139" width="3" height="9" fill="#ff0000"/>
<rect x="823" y="140" width="1" height="7" fill="#ff4500"/>
<rect x="827" y="128" width="1" height="32" fill="#32cd32"/>
<rect x="826" y="139" width="3" height="18" fill="#32cd32"/>
<rect x="831" y="148" width="1" height="59" fill="#32cd32"/>
<rect x="830" y="156" width="3" height="45" fill="#32cd32"/>
<rect x="835" y="140" width="1" height="72" fill="#ff0000"/>
<rect x="834" y="159" width="3" height="41" fill="#ff0000"/>
<rect x="835" y="160" width="1" height="39" fill="#ff4500"/>
<rect x="839" y="121" width="1" height="39" fill="#ff0000"/>
<rect x="838" y="123" width="3" height="36" fill="#ff0000"/>
<rect x="839" y="124" width="1" height="34" fill="#ff4500"/>
<rect x="843" y="116" width="1" height="5" fill="#ff0000"/>
<rect x="842" y="116" width="3" height="4" fill="#ff0000"/>
<rect x="843" y="117" width="1" height="2" fill="#ff4500"/>
<rect x="847" y="71" width="1" height="52" fill="#ff0000"/>
<rect x="846" y="75" width="3" height="43" fill="#ff0000"/>
<rect x="847" y="76" width="1" height="41" fill="#ff4500"/>
<rect x="851" y="56" width="1" height="42" fill="#ff0000"/>
<rect x="850" y="64" width="3" height="12" fill="#ff0000"/>
<rect x="851" y="65" width="1" height="10" fill="#ff4500"/>
<rect x="855" y="62" width="1" height="54" fill="#32cd32"/>
<rect x="854" y="64" width="3" height="18" fill="#32cd32"/>
<rect x="859" y="45" width="1" height="46" fill="#ff0000"/>
<rect x="858" y="68" width="3" height="14" fill="#ff0000"/>
<rect x="859" y="69" width="1" height="12" fill="#ff4500"/>
<rect x="863" y="65" width="1" height="55" fill="#32cd32"/>
<rect x="862" y="68" width="3" height="44" fill="#32cd32"/>
<rect x="867" y="117" width="1" height="9" fill="#32cd32"/>
<rect x="866" y="119" width="3" height="5" fill="#32cd32"/>
<rect x="871" y="88" width="1" height="68" fill="#32cd32"/>
<rect x="870" y="124" width="3" height="26" fill="#32cd32"/>
<rect x="875" y="145" width="1" height="26" fill="#32cd32"/>
<rect x="874" y="149" width="3" height="21" fill="#32cd32"/>
<rect x="879" y="130" width="1" height="44" fill="#ff0000"/>
<rect x="878" y="131" width="3" height="37" fill="#ff0000"/>
<rect x="879" y="132" width="1" height="35" fill="#ff4500"/>
<rect x="883" y="132" width="1" height="48" fill="#32cd32"/>
<rect x="882" y="133" width="3" height="31" fill="#32cd32"/>
<rect x="887" y="140" width="1" height="43" fill="#ff0000"/>
<rect x="886" y="148" width="3" height="16" fill="#ff0000"/>
<rect x="887" y="149" width="1" height="14" fill="#ff4500"/>
<rect x="891" y="160" width="1" height="7" fill="#32cd32"/>
<rect x="890" y="160" width="3" height="4" fill="#32cd32"/>
<rect x="895" y="163" width="1" height="26" fill="#32cd32"/>
<rect x="894" y="164" width="3" height="14" fill="#32cd32"/>
<rect x="899" y="138" width="1" height="44" fill="#ff0000"/>
<rect x="898" y="161" width="3" height="17" fill="#ff0000"/>
<rect x="899" y="162" width="1" height="15" fill="#ff4500"/>
<rect x="903" y="133" width="1" height="38" fill="#32cd32"/>
<rect x="902" y="160" width="3" height="3" fill="#32cd32"/>
<rect x="907" y="149" width="1" height="38" fill="#32cd32"/>
<rect x="906" y="163" width="3" height="21" fill="#32cd32"/>
<rect x="911" y="180" width="1" height="28" fill="#32cd32"/>
<rect x="910" y="183" width="3" height="24" fill="#32cd32"/>
<rect x="915" y="205" width="1" height="5" fill="#ff0000"/>
<rect x="914" y="206" width="3" height="1" fill="#ff0000"/>
<rect x="919" y="205" width="1" height="35" fill="#32cd32"/>
<rect x="918" y="205" width="3" height="33" fill="#32cd32"/>
<rect x="923" y="224" width="1" height="26" fill="#32cd32"/>
<rect x="922" y="238" width="3" height="10" fill="#32cd32"/>
<rect x="2" y="457" width="3" height="2" fill="#c0c0c0"/>
<rect x="6" y="457" width="3" height="4" fill="#c0c0c0"/>
<rect x="10" y="457" width="3" height="2" fill="#c0c0c0"/>
<rect x="14" y="455" width="3" height="2" fill="#c0c0c0"/>
<rect x="18" y="453" width="3" height="4" fill="#c0c0c0"/>
<rect x="22" y="453" width="3" height="4" fill="#c0c0c0"/>
<rect x="26" y="451" width="3" height="6" fill="#c0c0c0"/>
<rect x="30" y="451" width="3" height="6" fill="#c0c0c0"/>
<rect x="34" y="450" width="3" height="7" fill="#c0c0c0"/>
<rect x="38" y="451" width="3" height="6" fill="#c0c0c0"/>
<rect x="42" y="451" width="3" height="6" fill="#c0c0c0"/>
<rect x="46" y="448" width="3" height="9" fill="#c0c0c0"/>
<rect x="50" y="446" width="3" height="11" fill="#c0c0c0"/>
<rect x="54" y="443" width="3" height="14" fill="#c0c0c0"/>
<rect x="58" y="441" width="3" height="16" fill="#c0c0c0"/>
<rect x="62" y="440" width="3" height="17" fill="#c0c0c0"/>
<rect x="66" y="443" width="3" height="14" fill="#c0c0c0"/>
<rect x="70" y="445" width="3" height="12" fill="#c0c0c0"/>
<rect x="74" y="448" width="3" height="9" fill="#c0c0c0"/>
<rect x="78" y="451" width="3" height="6" fill="#c0c0c0"/>
<rect x="82" y="452" width="3" height="5" fill="#c0c0c0"/>
<rect x="86" y="450" width="3" height="7" fill="#c0c0c0"/>
<rect x="90" y="451" width="3" height="6" fill="#c0c0c0"/>
<rect x="94" y="453" width="3" height="4" fill="#c0c0c0"/>
<rect x="98" y="455" width="3" height="2" fill="#c0c0c0"/>
<rect x="102" y="457" width="3" height="1" fill="#c0c0c0"/>
<rect x="106" y="457" width="3" height="4" fill="#c0c0c0"/>
<rect x="110" y="457" width="3" height="5" fill="#c0c0c0"/>
<rect x="114" y="457" width="3" height="7" fill="#c0c0c0"/>
<rect x="118" y="457" width="3" height="12" fill="#c0c0c0"/>
<rect x="122" y="457" width="3" height="14" fill="#c0c0c0"/>
<rect x="126" y="457" width="3" height="16" fill="#c0c0c0"/>
<rect x="130" y="457" width="3" height="18" fill="#c0c0c0"/>
<rect x="134" y="457" width="3" height="20" fill="#c0c0c0"/>
<rect x="138" y="457" width="3" height="24" fill="#c0c0c0"/>
<rect x="142" y="457" width="3" height="25" fill="#c0c0c0"/>
<rect x="146" y="457" width="3" height="26" fill="#c0c0c0"/>
<rect x="150" y="457" width="3" height="28" fill="#c0c0c0"/>
<rect x="154" y="457" width="3" height="28" fill="#c0c0c0"/>
<rect x="158" y="457" width="3" height="30" fill="#c0c0c0"/>
<rect x="162" y="457" width="3" height="30" fill="#c0c0c0"/>
<rect x="166" y="457" width="3" height="29" fill="#c0c0c0"/>
<rect x="170" y="457" width="3" height="28" fill="#c0c0c0"/>
<rect x="174" y="457" width="3" height="26" fill="#c0c0c0"/>
<rect x="178" y="457" width="3" height="25" fill="#c0c0c0"/>
<rect x="182" y="457" width="3" height="24" fill="#c0c0c0"/>
<rect x="186" y="457" width="3" height="24" fill="#c0c0c0"/>
<rect x="190" y="457" width="3" height="22" fill="#c0c0c0"/>
<rect x="194" y="457" width="3" height="20" fill="#c0c0c0"/>
<rect x="198" y="457" width="3" height="19" fill="#c0c0c0"/>
<rect x="202" y="457" width="3" height="17" fill="#c0c0c0"/>
<rect x="206" y="457" width="3" height="16" fill="#c0c0c0"/>
<rect x="210" y="457" width="3" height="13" fill="#c0c0c0"/>
<rect x="214" y="457" width="3" height="10" fill="#c0c0c0"/>
<rect x="218" y="457" width="3" height="8" fill="#c0c0c0"/>
<rect x="222" y="457" width="3" height="8" fill="#c0c0c0"/>
<rect x="226" y="457" width="3" height="6" fill="#c0c0c0"/>
<rect x="230" y="457" width="3" height="4" fill="#c0c0c0"/>
<rect x="234" y="455" width="3" height="2" fill="#c0c0c0"/>
<rect x="238" y="453" width="3" height="4" fill="#c0c0c0"/>
<rect x="242" y="451" width="3" height="6" fill="#c0c0c0"/>
<rect x="246" y="450" width="3" height="7" fill="#c0c0c0"/>
<rect x="250" y="449" width="3" height="8" fill="#c0c0c0"/>
<rect x="254" y="446" width="3" height="11" fill="#c0c0c0"/>
<rect x="258" y="444" width="3" height="13" fill="#c0c0c0"/>
<rect x="262" y="442" width="3" height="15" fill="#c0c0c0"/>
<rect x="266" y="440" width="3" height="17" fill="#c0c0c0"/>
<rect x="270" y="437" width="3" height="20" fill="#c0c0c0"/>
<rect x="274" y="436" width="3" height="21" fill="#c0c0c0"/>
<rect x="278" y="436" width="3" height="21" fill="#c0c0c0"/>
<rect x="282" y="436" width="3" height="21" fill="#c0c0c0"/>
<rect x="286" y="433" width="3" height="24" fill="#c0c0c0"/>
<rect x="290" y="432" width="3" height="25" fill="#c0c0c0"/>
<rect x="294" y="432" width="3" height="25" fill="#c0c0c0"/>
<rect x="298" y="431" width="3" height="26" fill="#c0c0c0"/>
<rect x="302" y="429" width="3" height="28" fill="#c0c0c0"/>
<rect x="306" y="428" width="3" height="29" fill="#c0c0c0"/>
<rect x="310" y="427" width="3" height="30" fill="#c0c0c0"/>
<rect x="314" y="427" width="3" height="30" fill="#c0c0c0"/>
<rect x="318" y="429" width="3" height="28" fill="#c0c0c0"/>
<rect x="322" y="434" width="3" height="23" fill="#c0c0c0"/>
<rect x="326" y="438" width="3" height="19" fill="#c0c0c0"/>
<rect x="330" y="440" width="3" height="17" fill="#c0c0c0"/>
<rect x="334" y="441" width="3" height="16" fill="#c0c0c0"/>
<rect x="338" y="442" width="3" height="15" fill="#c0c0c0"/>
<rect x="342" y="441" width="3" height="16" fill="#c0c0c0"/>
<rect x="346" y="439" width="3" height="18" fill="#c0c0c0"/>
<rect x="350" y="439" width="3" height="18" fill="#c0c0c0"/>
<rect x="354" y="439" width="3" height="18" fill="#c0c0c0"/>
<rect x="358" y="437" width="3" height="20" fill="#c0c0c0"/>
<rect x="362" y="435" width="3" height="22" fill="#c0c0c0"/>
<rect x="366" y="433" width="3" height="24" fill="#c0c0c0"/>
<rect x="370" y="432" width="3" height="25" fill="#c0c0c0"/>
<rect x="374" y="434" width="3" height="23" fill="#c0c0c0"/>
<rect x="378" y="436" width="3" height="21" fill="#c0c0c0"/>
<rect x="382" y="438" width="3" height="19" fill="#c0c0c0"/>
<rect x="386" y="440" width="3" height="17" fill="#c0c0c0"/>
<rect x="390" y="443" width="3" height="14" fill="#c0c0c0"/>
<rect x="394" y="444" width="3" height="13" fill="#c0c0c0"/>
<rect x="398" y="446" width="3" height="11" fill="#c0c0c0"/>
<rect x="402" y="449" width="3" height="8" fill="#c0c0c0"/>
<rect x="406" y="455" width="3" height="2" fill="#c0c0c0"/>
<rect x="410" y="457" width="3" height="1" fill="#c0c0c0"/>
<rect x="414" y="457" width="3" height="1" fill="#c0c0c0"/>
<rect x="418" y="457" width="3" height="3" fill="#c0c0c0"/>
<rect x="422" y="457" width="3" height="3" fill="#c0c0c0"/>
<rect x="426" y="457" width="3" height="3" fill="#c0c0c0"/>
<rect x="430" y="457" width="3" height="7" fill="#c0c0c0"/>
<rect x="434" y="457" width="3" height="8" fill="#c0c0c0"/>
<rect x="438" y="457" width="3" height="10" fill="#c0c0c0"/>
<rect x="442" y="457" width="3" height="12" fill="#c0c0c0"/>
<rect x="446" y="457" width="3" height="18" fill="#c0c0c0"/>
<rect x="450" y="457" width="3" height="20" fill="#c0c0c0"/>
<rect x="454" y="457" width="3" height="22" fill="#c0c0c0"/>
<rect x="458" y="457" width="3" height="22" fill="#c0c0c0"/>
<rect x="462" y="457" width="3" height="24" fill="#c0c0c0"/>
<rect x="466" y="457" width="3" height="24" fill="#c0c0c0"/>
<rect x="470" y="457" width="3" height="25" fill="#c0c0c0"/>
<rect x="474" y="457" width="3" height="26" fill="#c0c0c0"/>
<rect x="478" y="457" width="3" height="22" fill="#c0c0c0"/>
<rect x="482" y="457" width="3" height="20" fill="#c0c0c0"/>
<rect x="486" y="457" width="3" height="18" fill="#c0c0c0"/>
<rect x="490" y="457" width="3" height="16" fill="#c0c0c0"/>
<rect x="494" y="457" width="3" height="12" fill="#c0c0c0"/>
<rect x="498" y="457" width="3" height="7" fill="#c0c0c0"/>
<rect x="502" y="457" width="3" height="2" fill="#c0c0c0"/>
<rect x="506" y="455" width="3" height="2" fill="#c0c0c0"/>
<rect x="510" y="453" width="3" height="4" fill="#c0c0c0"/>
<rect x="514" y="453" width="3" height="4" fill="#c0c0c0"/>
<rect x="518" y="453" width="3" height="4" fill="#c0c0c0"/>
<rect x="522" y="453" width="3" height="4" fill="#c0c0c0"/>
<rect x="526" y="451" width="3" height="6" fill="#c0c0c0"/>
<rect x="530" y="450" width="3" height="7" fill="#c0c0c0"/>
<rect x="534" y="451" width="3" height="6" fill="#c0c0c0"/>
<rect x="538" y="452" width="3" height="5" fill="#c0c0c0"/>
<rect x="542" y="452" width="3" height="5" fill="#c0c0c0"/>
<rect x="546" y="452" width="3" height="5" fill="#c0c0c0"/>
<rect x="550" y="451" width="3" height="6" fill="#c0c0c0"/>
<rect x="554" y="451" width="3" height="6" fill="#c0c0c0"/>
<rect x="558" y="450" width="3" height="7" fill="#c0c0c0"/>
<rect x="562" y="450" width="3" height="7" fill="#c0c0c0"/>
<rect x="566" y="451" width="3" height="6" fill="#c0c0c0"/>
<rect x="570" y="451" width="3" height="6" fill="#c0c0c0"/>
<rect x="574" y="451" width="3" height="6" fill="#c0c0c0"/>
<rect x="578" y="451" width="3" height="6" fill="#c0c0c0"/>
<rect x="582" y="450" width="3" height="7" fill="#c0c0c0"/>
<rect x="586" y="450" width="3" height="7" fill="#c0c0c0"/>
<rect x="590" y="450" width="3" height="7" fill="#c0c0c0"/>
<rect x="594" y="449" width="3" height="8" fill="#c0c0c0"/>
<rect x="598" y="450" width="3" height="7" fill="#c0c0c0"/>
<rect x="602" y="451" width="3" height="6" fill="#c0c0c0"/>
<rect x="606" y="453" width="3" height="4" fill="#c0c0c0"/>
<rect x="610" y="454" width="3" height="3" fill="#c0c0c0"/>
<rect x="614" y="456" width="3" height="1" fill="#c0c0c0"/>
<rect x="618" y="457" width="3" height="1" fill="#c0c0c0"/>
<rect x="622" y="457" width="3" height="1" fill="#c0c0c0"/>
<rect x="626" y="457" width="3" height="1" fill="#c0c0c0"/>
<rect x="630" y="455" width="3" height="2" fill="#c0c0c0"/>
<rect x="634" y="450" width="3" height="7" fill="#c0c0c0"/>
<rect x="638" y="449" width="3" height="8" fill="#c0c0c0"/>
<rect x="642" y="450" width="3" height="7" fill="#c0c0c0"/>
<rect x="646" y="451" width="3" height="6" fill="#c0c0c0"/>
<rect x="650" y="452" width="3" height="5" fill="#c0c0c0"/>
<rect x="654" y="451" width="3" height="6" fill="#c0c0c0"/>
<rect x="658" y="451" width="3" height="6" fill="#c0c0c0"/>
<rect x="662" y="454" width="3" height="3" fill="#c0c0c0"/>
<rect x="666" y="457" width="3" height="1" fill="#c0c0c0"/>
<rect x="670" y="457" width="3" height="5" fill="#c0c0c0"/>
<rect x="674" y="457" width="3" height="8" fill="#c0c0c0"/>
<rect x="678" y="457" width="3" height="10" fill="#c0c0c0"/>
<rect x="682" y="457" width="3" height="12" fill="#c0c0c0"/>
<rect x="686" y="457" width="3" height="14" fill="#c0c0c0"/>
<rect x="690" y="457" width="3" height="16" fill="#c0c0c0"/>
<rect x="694" y="457" width="3" height="20" fill="#c0c0c0"/>
<rect x="698" y="457" width="3" height="22" fill="#c0c0c0"/>
<rect x="702" y="457" width="3" height="22" fill="#c0c0c0"/>
<rect x="706" y="457" width="3" height="24" fill="#c0c0c0"/>
<rect x="710" y="457" width="3" height="24" fill="#c0c0c0"/>
<rect x="714" y="457" width="3" height="24" fill="#c0c0c0"/>
<rect x="718" y="457" width="3" height="22" fill="#c0c0c0"/>
<rect x="722" y="457" width="3" height="22" fill="#c0c0c0"/>
<rect x="726" y="457" width="3" height="22" fill="#c0c0c0"/>
<rect x="730" y="457" width="3" height="22" fill="#c0c0c0"/>
<rect x="734" y="457" width="3" height="18" fill="#c0c0c0"/>
<rect x="738" y="457" width="3" height="16" fill="#c0c0c0"/>
<rect x="742" y="457" width="3" height="14" fill="#c0c0c0"/>
<rect x="746" y="457" width="3" height="12" fill="#c0c0c0"/>
<rect x="750" y="457" width="3" height="9" fill="#c0c0c0"/>
<rect x="754" y="457" width="3" height="6" fill="#c0c0c0"/>
<rect x="758" y="457" width="3" height="6" fill="#c0c0c0"/>
<rect x="762" y="457" width="3" height="4" fill="#c0c0c0"/>
<rect x="766" y="457" width="3" height="3" fill="#c0c0c0"/>
<rect x="770" y="457" width="3" height="2" fill="#c0c0c0"/>
<rect x="774" y="457" width="3" height="1" fill="#c0c0c0"/>
<rect x="778" y="457" width="3" height="1" fill="#c0c0c0"/>
<rect x="782" y="457" width="3" height="3" fill="#c0c0c0"/>
<rect x="786" y="457" width="3" height="3" fill="#c0c0c0"/>
<rect x="790" y="456" width="3" height="1" fill="#c0c0c0"/>
<rect x="794" y="452" width="3" height="5" fill="#c0c0c0"/>
<rect x="798" y="449" width="3" height="8" fill="#c0c0c0"/>
<rect x="802" y="445" width="3" height="12" fill="#c0c0c0"/>
<rect x="806" y="442" width="3" height="15" fill="#c0c0c0"/>
<rect x="810" y="439" width="3" height="18" fill="#c0c0c0"/>
<rect x="814" y="437" width="3" height="20" fill="#c0c0c0"/>
<rect x="818" y="435" width="3" height="22" fill="#c0c0c0"/>
<rect x="822" y="433" width="3" height="24" fill="#c0c0c0"/>
<rect x="826" y="433" width="3" height="24" fill="#c0c0c0"/>
<rect x="830" y="436" width="3" height="21" fill="#c0c0c0"/>
<rect x="834" y="435" width="3" height="22" fill="#c0c0c0"/>
<rect x="838" y="434" width="3" height="23" fill="#c0c0c0"/>
<rect x="842" y="432" width="3" height="25" fill="#c0c0c0"/>
<rect x="846" y="428" width="3" height="29" fill="#c0c0c0"/>
<rect x="850" y="425" width="3" height="32" fill="#c0c0c0"/>
<rect x="854" y="424" width="3" height="33" fill="#c0c0c0"/>
<rect x="858" y="423" width="3" height="34" fill="#c0c0c0"/>
<rect x="862" y="425" width="3" height="32" fill="#c0c0c0"/>
<rect x="866" y="429" width="3" height="28" fill="#c0c0c0"/>
<rect x="870" y="432" width="3" height="25" fill="#c0c0c0"/>
<rect x="874" y="436" width="3" height="21" fill="#c0c0c0"/>
<rect x="878" y="438" width="3" height="19" fill="#c0c0c0"/>
<rect x="882" y="441" width="3" height="16" fill="#c0c0c0"/>
<rect x="886" y="443" width="3" height="14" fill="#c0c0c0"/>
<rect x="890" y="446" width="3" height="11" fill="#c0c0c0"/>
<rect x="894" y="449" width="3" height="8" fill="#c0c0c0"/>
<rect x="898" y="451" width="3" height="6" fill="#c0c0c0"/>
<rect x="902" y="452" width="3" height="5" fill="#c0c0c0"/>
<rect x="906" y="454" width="3" height="3" fill="#c0c0c0"/>
<rect x="910" y="457" width="3" height="2" fill="#c0c0c0"/>
<rect x="914" y="457" width="3" height="4" fill="#c0c0c0"/>
<rect x="918" y="457" width="3" height="8" fill="#c0c0c0"/>
<rect x="922" y="457" width="3" height="12" fill="#c0c0c0"/>
<polyline points="3.0,449.8 8.0,452.8 13.9,455.2 19.9,455.8 31.8,455.6 43.8,453.4 53.7,449.8 65.7,446.2 71.6,445.5 79.6,445.5 91.5,447.2 103.5,451.8 119.4,457.8 131.3,464.8 143.3,472.7 155.2,479.3 167.2,483.3 175.1,484.3 185.1,484.3 195.0,482.3 207.0,478.7 218.9,474.3 230.8,468.7 236.0,465.4 241.9,461.8 253.9,456.4 265.8,449.8 277.8,443.3 289.7,437.3 301.6,434.5 313.6,431.3 321.5,430.3 331.5,431.3 341.4,434.9 349.4,437.9 355.4,439.3 363.3,439.1 373.3,436.5 381.2,436.3 393.2,436.5 401.1,438.9 413.1,446.2 423.0,452.4 437.0,459.8 448.9,465.4 460.8,470.7 470.0,475.3 477.9,479.3 487.9,479.3 495.8,477.1 505.8,471.7 517.7,462.8 527.7,455.8 533.6,453.2 543.6,452.2 553.5,451.4 571.4,451.2 591.3,451.2 597.3,450.2 609.3,450.6 617.2,451.8 627.2,454.2 639.1,454.4 651.0,453.2 663.0,451.2 669.0,452.2 676.9,455.4 684.9,458.4 692.8,463.8 698.0,469.3 707.9,474.7 719.9,478.7 727.8,479.7 735.8,479.7 745.7,476.7 757.7,471.3 769.6,465.4 781.5,460.8 789.5,459.8 799.5,457.4 813.4,450.8 825.3,442.5 837.3,436.9 849.2,433.5 859.2,430.3 867.1,428.5 877.1,428.5 885.0,430.5 895.0,437.5 906.9,445.9 914.9,449.8 922.8,455.8" fill="none" stroke="#ff0000" stroke-width="1" />
<line x1="3" y1="515.5" x2="1165" y2="515.5" stroke="#c0c0c0" stroke-width="1" stroke-dasharray="3 3"/>
<line x1="3" y1="544.5" x2="1165" y2="544.5" stroke="#c0c0c0" stroke-width="1" stroke-dasharray="3 3"/>
<polyline points="3.0,534.4 7.0,534.4 10.9,526.8 15.9,522.8 19.9,525.2 23.9,526.4 27.9,525.4 31.8,527.4 35.8,524.4 39.8,530.4 47.8,522.2 53.7,520.9 58.7,519.5 62.7,521.4 67.7,530.4 73.6,530.4 79.6,533.4 87.6,524.2 91.5,529.4 95.5,532.2 101.5,532.4 107.5,535.2 113.4,535.8 119.4,541.3 123.4,539.4 129.4,539.4 135.3,541.7 139.3,545.1 145.3,544.3 153.2,544.7 159.2,547.3 163.2,541.7 171.1,541.3 179.1,538.4 187.1,541.3 195.0,536.4 199.0,537.4 203.0,533.4 207.0,536.2 210.9,528.8 214.9,527.2 220.9,528.4 226.9,530.2 230.0,526.8 235.0,517.3 239.0,521.2 242.9,522.4 247.5,525.4 253.9,519.5 256.9,518.5 259.5,519.5 263.4,515.9 267.4,517.5 271.4,514.5 275.8,517.3 279.8,519.5 283.3,519.5 287.7,511.9 291.7,519.5 295.7,518.3 302.6,514.5 306.6,514.5 310.6,513.3 314.6,515.9 318.6,521.8 323.5,531.4 327.5,531.4 333.5,525.8 336.5,525.4 339.5,526.4 344.4,520.5 348.4,518.3 351.4,520.3 355.4,525.2 359.4,520.9 363.3,519.5 367.3,517.3 371.3,518.9 375.3,523.8 381.2,526.8 388.2,527.4 391.2,529.2 395.2,527.4 399.2,530.2 403.1,532.4 407.7,538.4 411.7,537.4 415.1,530.4 419.1,533.4 424.0,529.2 428.0,531.4 432.0,536.4 439.0,534.2 442.9,537.4 447.9,541.3 451.5,541.3 455.9,537.4 460.0,538.4 467.0,540.4 470.9,539.4 475.5,539.4 479.5,533.4 483.5,534.4 487.5,529.4 491.4,530.4 495.8,527.2 499.8,521.8 503.8,520.5 507.8,522.4 512.7,526.2 518.7,528.4 523.7,528.2 527.7,523.2 530.6,523.4 535.2,530.2 539.6,527.4 543.2,529.2 547.2,526.4 551.5,525.4 555.5,527.4 559.5,526.4 563.5,527.4 568.1,529.4 572.4,527.2 577.4,524.4 583.4,524.2 587.0,523.2 591.3,527.4 595.3,521.4 599.3,530.2 603.3,527.4 607.3,533.4 611.2,529.4 615.2,534.2 619.2,532.2 623.2,528.4 627.2,529.4 631.1,525.4 635.1,520.5 639.1,526.2 644.1,528.4 648.1,530.4 651.4,530.2 655.4,525.4 659.0,527.4 664.0,532.4 668.0,535.4 671.9,536.4 676.9,536.4 678.9,537.4 685.9,537.8 690.0,539.4 696.0,542.3 700.0,540.8 703.9,538.4 710.9,540.4 715.9,538.2 722.8,536.4 728.8,538.4 731.8,538.2 735.8,530.8 739.4,529.4 743.3,531.4 747.7,529.4 751.7,525.8 755.7,525.4 759.7,531.4 763.6,528.4 767.6,528.4 771.6,527.4 775.6,529.2 779.2,528.4 783.5,538.4 787.5,530.4 791.5,522.4 795.5,522.4 799.5,521.4 803.4,518.9 807.4,517.3 811.4,518.3 815.4,516.9 819.4,516.5 823.3,515.3 827.3,518.9 831.3,527.4 837.3,521.4 841.2,519.5 844.2,518.5 847.2,515.9 851.2,514.5 855.2,517.3 859.2,516.5 863.1,522.8 867.1,525.2 871.1,527.8 875.7,531.4 879.1,526.8 883.0,530.4 887.0,528.2 891.0,529.4 895.6,532.2 899.0,530.4 902.9,530.4 906.9,532.8 910.9,535.2 914.9,535.4 918.9,538.8 922.8,540.4" fill="none" stroke="#1e90ff" stroke-width="1" />
<rect x="2" y="25" width="1164" height="1" fill="#000"/>
<rect x="2" y="25" width="1" height="542" fill="#000"/>
<rect x="1165" y="25" width="1" height="542" fill="#000"/>
<rect x="2" y="416" width="1164" height="1" fill="#000"/>
<rect x="2" y="417" width="1" height="1" fill="#fff"/>
<rect x="2" y="418" width="1164" height="1" fill="#000"/>
<rect x="2" y="490" width="1164" height="1" fill="#000"/>
<rect x="2" y="491" width="1" height="1" fill="#fff"/>
<rect x="2" y="492" width="1164" height="1" fill="#000"/>
<rect x="2" y="566" width="1164" height="1" fill="#000"/>
<rect x="1166" y="50" width="2" height="1" fill="#000"/>
<rect x="1166" y="83" width="2" height="1" fill="#000"/>
<rect x="1166" y="116" width="2" height="1" fill="#000"/>
<rect x="1166" y="149" width="2" height="1" fill="#000"/>
<rect x="1166" y="182" width="2" height="1" fill="#000"/>
<rect x="1166" y="215" width="2" height="1" fill="#000"/>
<rect x="1166" y="248" width="2" height="1" fill="#000"/>
<rect x="1166" y="281" width="2" height="1" fill="#000"/>
<rect x="1166" y="314" width="2" height="1" fill="#000"/>
<rect x="1166" y="347" width="2" height="1" fill="#000"/>
<rect x="1166" y="380" width="2" height="1" fill="#000"/>
<rect x="1166" y="413" width="2" height="1" fill="#000"/>
<rect x="1166" y="420" width="1" height="1" fill="#000"/>
<rect x="1166" y="457" width="2" height="1" fill="#000"/>
<rect x="1166" y="489" width="1" height="1" fill="#000"/>
<rect x="1166" y="494" width="1" height="1" fill="#000"/>
<rect x="1166" y="564" width="1" height="1" fill="#000"/>
<rect x="3" y="567" width="1" height="3" fill="#000"/>
<rect x="67" y="567" width="1" height="3" fill="#000"/>
<rect x="131" y="567" width="1" height="3" fill="#000"/>
<rect x="195" y="567" width="1" height="3" fill="#000"/>
<rect x="259" y="567" width="1" height="3" fill="#000"/>
<rect x="323" y="567" width="1" height="3" fill="#000"/>
<rect x="387" y="567" width="1" height="3" fill="#000"/>
<rect x="451" y="567" width="1" height="3" fill="#000"/>
<rect x="515" y="567" width="1" height="3" fill="#000"/>
<rect x="579" y="567" width="1" height="3" fill="#000"/>
<rect x="643" y="567" width="1" height="3" fill="#000"/>
<rect x="707" y="567" width="1" height="3" fill="#000"/>
<rect x="771" y="567" width="1" height="3" fill="#000"/>
<rect x="835" y="567" width="1" height="3" fill="#000"/>
<rect x="899" y="567" width="1" height="3" fill="#000"/>
<polygon points="6,32 13,32 9.5,36" fill="#000"/>
<g shape-rendering="auto" text-rendering="geometricPrecision">
<text x="18.4" y="37" font-size="10" fill="#000" stroke="#000" textLength="67.6" lengthAdjust="spacingAndGlyphs">USDCAD-,Daily</text>
<text x="93.5" y="37" font-size="10" fill="#000" stroke="#000" textLength="139.4" lengthAdjust="spacingAndGlyphs">1.26559 1.26855 1.26280 1.26349</text>
<text x="7.4" y="431" font-size="10" fill="#000" stroke="#000" textLength="150.39" lengthAdjust="spacingAndGlyphs">MACD(12,26,9) -0.002907 0.000458</text>
<text x="7.4" y="505" font-size="10" fill="#000" stroke="#000" textLength="67.4" lengthAdjust="spacingAndGlyphs">RSI(14) 35.7528</text>
<text x="1171.6" y="54" font-size="10" fill="#000" stroke="#000" textLength="32.01" lengthAdjust="spacingAndGlyphs">1.30630</text>
<text x="1171.6" y="87" font-size="10" fill="#000" stroke="#000" textLength="32.01" lengthAdjust="spacingAndGlyphs">1.29910</text>
<text x="1171.6" y="120" font-size="10" fill="#000" stroke="#000" textLength="32.01" lengthAdjust="spacingAndGlyphs">1.29190</text>
<text x="1171.6" y="153" font-size="10" fill="#000" stroke="#000" textLength="32.01" lengthAdjust="spacingAndGlyphs">1.28470</text>
<text x="1171.6" y="186" font-size="10" fill="#000" stroke="#000" textLength="32.01" lengthAdjust="spacingAndGlyphs">1.27750</text>
<text x="1171.6" y="219" font-size="10" fill="#000" stroke="#000" textLength="32.01" lengthAdjust="spacingAndGlyphs">1.27030</text>
<text x="1171.6" y="252" font-size="10" fill="#000" stroke="#000" textLength="32.01" lengthAdjust="spacingAndGlyphs">1.26310</text>
<text x="1171.6" y="285" font-size="10" fill="#000" stroke="#000" textLength="32.01" lengthAdjust="spacingAndGlyphs">1.25610</text>
<text x="1171.6" y="318" font-size="10" fill="#000" stroke="#000" textLength="32.01" lengthAdjust="spacingAndGlyphs">1.24890</text>
<text x="1171.6" y="351" font-size="10" fill="#000" stroke="#000" textLength="32.01" lengthAdjust="spacingAndGlyphs">1.24170</text>
<text x="1171.6" y="384" font-size="10" fill="#000" stroke="#000" textLength="32.01" lengthAdjust="spacingAndGlyphs">1.23450</text>
<text x="1171.6" y="417" font-size="10" fill="#000" stroke="#000" textLength="32.01" lengthAdjust="spacingAndGlyphs">1.22730</text>
<text x="1169.2" y="429" font-size="10" fill="#000" stroke="#000" textLength="37.01" lengthAdjust="spacingAndGlyphs">0.010578</text>
<text x="1169.2" y="461" font-size="10" fill="#000" stroke="#000" textLength="17.11" lengthAdjust="spacingAndGlyphs">0.00</text>
<text x="1169.5" y="487" font-size="10" fill="#000" stroke="#000" textLength="34.12" lengthAdjust="spacingAndGlyphs">-0.00896</text>
<text x="1169.8" y="503" font-size="10" fill="#000" stroke="#000" textLength="13.84" lengthAdjust="spacingAndGlyphs">100</text>
<text x="1168.6" y="519" font-size="10" fill="#000" stroke="#000" textLength="9.62" lengthAdjust="spacingAndGlyphs">70</text>
<text x="1168.6" y="548" font-size="10" fill="#000" stroke="#000" textLength="9.62" lengthAdjust="spacingAndGlyphs">30</text>
<text x="1169.6" y="563" font-size="10" fill="#000" stroke="#000" textLength="4.45" lengthAdjust="spacingAndGlyphs">0</text>
<text x="2.2" y="579" font-size="10" fill="#000" stroke="#000" textLength="45.81" lengthAdjust="spacingAndGlyphs">5 Sep 2021</text>
<text x="66.2" y="579" font-size="10" fill="#000" stroke="#000" textLength="50.01" lengthAdjust="spacingAndGlyphs">23 Sep 2021</text>
<text x="130.3" y="579" font-size="10" fill="#000" stroke="#000" textLength="49.1" lengthAdjust="spacingAndGlyphs">12 Oct 2021</text>
<text x="194.4" y="579" font-size="10" fill="#000" stroke="#000" textLength="49.01" lengthAdjust="spacingAndGlyphs">31 Oct 2021</text>
<text x="258.7" y="579" font-size="10" fill="#000" stroke="#000" textLength="52.0" lengthAdjust="spacingAndGlyphs">18 Nov 2021</text>
<text x="322.4" y="579" font-size="10" fill="#000" stroke="#000" textLength="45.41" lengthAdjust="spacingAndGlyphs">7 Dec 2021</text>
<text x="386.2" y="579" font-size="10" fill="#000" stroke="#000" textLength="50.61" lengthAdjust="spacingAndGlyphs">26 Dec 2021</text>
<text x="450.9" y="579" font-size="10" fill="#000" stroke="#000" textLength="48.12" lengthAdjust="spacingAndGlyphs">13 Jan 2022</text>
<text x="515.1" y="579" font-size="10" fill="#000" stroke="#000" textLength="44.81" lengthAdjust="spacingAndGlyphs">1 Feb 2022</text>
<text x="578.5" y="579" font-size="10" fill="#000" stroke="#000" textLength="49.91" lengthAdjust="spacingAndGlyphs">20 Feb 2022</text>
<text x="642.9" y="579" font-size="10" fill="#000" stroke="#000" textLength="50.21" lengthAdjust="spacingAndGlyphs">10 Mar 2022</text>
<text x="706.6" y="579" font-size="10" fill="#000" stroke="#000" textLength="50.21" lengthAdjust="spacingAndGlyphs">29 Mar 2022</text>
<text x="770.9" y="579" font-size="10" fill="#000" stroke="#000" textLength="48.81" lengthAdjust="spacingAndGlyphs">17 Apr 2022</text>
<text x="834.7" y="579" font-size="10" fill="#000" stroke="#000" textLength="48.0" lengthAdjust="spacingAndGlyphs">5 May 2022</text>
<text x="898.1" y="579" font-size="10" fill="#000" stroke="#000" textLength="54.29" lengthAdjust="spacingAndGlyphs">24 May 2022</text>
<rect x="1167" y="58" width="39" height="11" fill="#ff0000" shape-rendering="crispEdges"/>
<rect x="1167" y="123" width="39" height="11" fill="#ff0000" shape-rendering="crispEdges"/>
<rect x="1167" y="187" width="39" height="11" fill="#00ff00" shape-rendering="crispEdges"/>
<rect x="1167" y="243" width="39" height="11" fill="#0000ff" shape-rendering="crispEdges"/>
<rect x="1167" y="312" width="39" height="11" fill="#0000ff" shape-rendering="crispEdges"/>
<rect x="1167" y="385" width="39" height="11" fill="#0000ff" shape-rendering="crispEdges"/>
<text x="1171.6" y="67" font-size="10" fill="#fff" stroke="#fff" textLength="32.01" lengthAdjust="spacingAndGlyphs">1.30328</text>
<text x="1171.6" y="132" font-size="10" fill="#fff" stroke="#fff" textLength="32.01" lengthAdjust="spacingAndGlyphs">1.28912</text>
<text x="1171.6" y="196" font-size="10" fill="#fff" stroke="#fff" textLength="32.01" lengthAdjust="spacingAndGlyphs">1.27515</text>
<text x="1171.6" y="252" font-size="10" fill="#fff" stroke="#fff" textLength="32.01" lengthAdjust="spacingAndGlyphs">1.26303</text>
<text x="1171.6" y="321" font-size="10" fill="#fff" stroke="#fff" textLength="32.01" lengthAdjust="spacingAndGlyphs">1.24800</text>
<text x="1171.6" y="394" font-size="10" fill="#fff" stroke="#fff" textLength="32.01" lengthAdjust="spacingAndGlyphs">1.23203</text>
</g>
</svg>
<div id="tabs"><div class="l0"></div><div class="l1"></div><div class="l2"></div>
<div id="active"></div>
<i class="sep" style="left:104px"></i><i class="sep" style="left:212px"></i><i class="sep" style="left:320px"></i><i class="sep" style="left:648px"></i><i class="sep" style="left:744px"></i><i class="sep" style="left:836px"></i><i class="sep" style="left:936px"></i><i class="sep" style="left:1020px"></i><i class="sep" style="left:1112px"></i>
<span class="tabt" style="left:15.0px;top:593.17px;transform:scaleX(0.9786);color:#6b6b6b">USDX,Weekly</span><span class="tabt" style="left:114.03px;top:593.17px;transform:scaleX(0.9664);color:#6b6b6b">EURUSD-,Daily</span><span class="tabt" style="left:222.0px;top:593.17px;transform:scaleX(0.9668);color:#6b6b6b">AUDUSD-,Daily</span><span class="tabt" style="left:332.0px;top:593.17px;transform:scaleX(0.9518);color:#6b6b6b">USDCHF-,Daily</span><span class="tabt" style="left:548.0px;top:593.17px;transform:scaleX(0.9817);color:#6b6b6b">USDCNH-,Daily</span><span class="tabt" style="left:659.0px;top:593.17px;transform:scaleX(0.9768);color:#6b6b6b">XAUUSD-,H4</span><span class="tabt" style="left:755.0px;top:593.17px;transform:scaleX(1.0028);color:#6b6b6b">UKOil-,Daily</span><span class="tabt" style="left:845.99px;top:593.17px;transform:scaleX(1.0088);color:#6b6b6b">DJ30-,Weekly</span><span class="tabt" style="left:947.0px;top:593.17px;transform:scaleX(0.9857);color:#6b6b6b">UK100-,H1</span><span class="tabt" style="left:1032.0px;top:593.17px;transform:scaleX(0.9882);color:#6b6b6b">USOil-,Daily</span><span class="tabt" style="left:1121.01px;top:593.17px;transform:scaleX(0.992);color:#6b6b6b">HK50-,H1</span><span class="tabt" style="left:439.6px;top:593.17px;transform:scaleX(0.9601);color:#000">USDCAD-,Daily</span>
<i class="arr" style="left:1181px;border-right:4px solid #9a9a9a"></i>
<i class="arr" style="left:1198px;border-left:4px solid #000"></i>
<div class="b0"></div><div class="b1"></div><div class="b2"></div>
</div>
</body></html>
